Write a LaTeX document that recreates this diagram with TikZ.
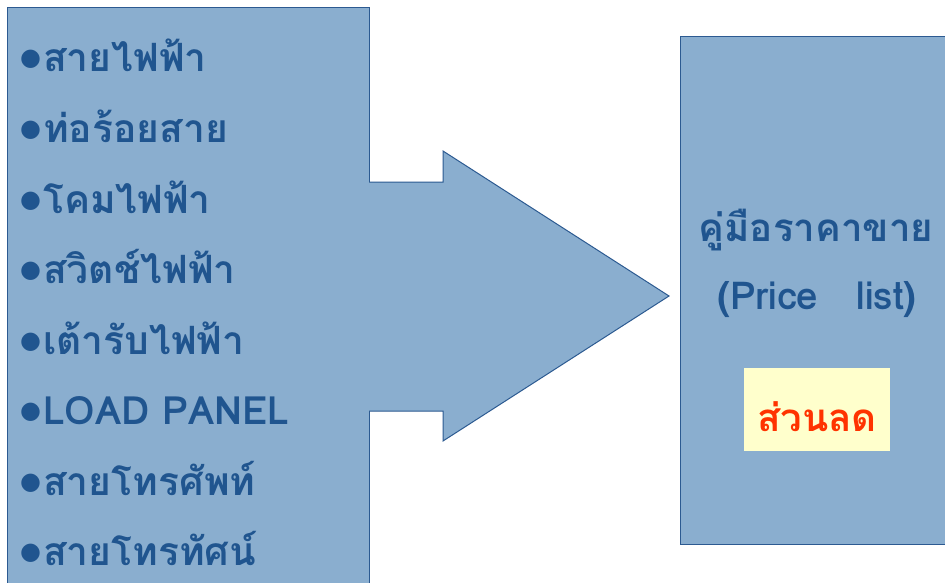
\documentclass[tikz,border=0pt]{standalone}
\usepackage{fontspec}
\newfontfamily\thaifont[Script=Thai]{Loma}
\newfontfamily\dejavu{DejaVu Sans}
\definecolor{boxfill}{HTML}{8AAECF}
\definecolor{boxline}{HTML}{2C5A91}
\definecolor{txtblue}{HTML}{20558F}
\definecolor{discred}{HTML}{FF3300}
\definecolor{discfill}{HTML}{FFFFCC}
\tikzset{
  panel/.style={fill=boxfill, draw=boxline, line width=1pt},
  item/.style={anchor=base west, inner sep=0pt, text=txtblue, font=\thaifont\bfseries\fontsize{39}{42}\selectfont},
  rtext/.style={anchor=base, inner sep=0pt, text=txtblue, font=\thaifont\bfseries\fontsize{38.5}{42}\selectfont},
}
\newcommand{\bul}{\raisebox{6pt}{\dejavu\fontsize{24}{24}\selectfont ●}\hspace{2pt}}
\begin{document}
\begin{tikzpicture}[x=1pt,y=-1pt]
\useasboundingbox (0,0) rectangle (945,583);
\clip (0,0) rectangle (945,583);
\fill[white] (0,0) rectangle (945,583);
% left box
\node[panel, minimum width=362pt, minimum height=590pt, anchor=north west, inner sep=0pt] (lbox) at (7,7) {};
% arrow
\fill[boxfill] (360,182) -- (443,182) -- (443,151) -- (669,296) -- (443,441) -- (443,411) -- (360,411) -- cycle;
\draw[boxline, line width=1pt, line join=miter] (369,182) -- (443,182) -- (443,151) -- (669,296) -- (443,441) -- (443,411) -- (369,411);
% right box
\node[panel, minimum width=280pt, minimum height=508pt, anchor=north west, inner sep=0pt] (rbox) at (680,36) {};
\node[fill=discfill, minimum width=146pt, minimum height=83pt, anchor=north west, inner sep=0pt] (disc) at (744,368) {};
% list items
\node[item] (i1) at (20,72) {\bul สายไฟฟ้า};
\node[item] (i2) at (20,142.5) {\bul ท่อร้อยสาย};
\node[item] (i3) at (20,213) {\bul โคมไฟฟ้า};
\node[item] (i4) at (20,283.5) {\bul สวิตช์ไฟฟ้า};
\node[item] (i5) at (20,354) {\bul เต้ารับไฟฟ้า};
\node[item] (i6) at (20,424.5) {\bul LOAD PANEL};
\node[item] (i7) at (20,495) {\bul สายโทรศัพท์};
\node[item] (i8) at (20,565) {\bul สายโทรทัศน์};
% right text
\node[rtext] (t1) at (816,241) {คู่มือราคาขาย};
\node[rtext] (t2) at (817,309) {(Price\ \ \ list)};
\node[rtext, text=discred] (t3) at (817,431) {ส่วนลด};
\end{tikzpicture}
\end{document}
